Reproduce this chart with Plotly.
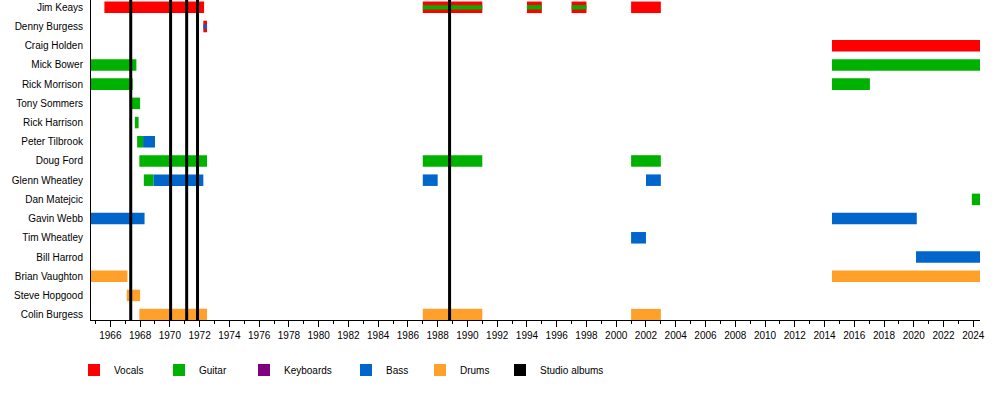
import plotly.graph_objects as go

# rows, top to bottom
members = ["Jim Keays", "Denny Burgess", "Craig Holden", "Mick Bower", "Rick Morrison",
           "Tony Sommers", "Rick Harrison", "Peter Tilbrook", "Doug Ford", "Glenn Wheatley",
           "Dan Matejcic", "Gavin Webb", "Tim Wheatley", "Bill Harrod", "Brian Vaughton",
           "Steve Hopgood", "Colin Burgess"]

roles = ["Vocals", "Guitar", "Keyboards", "Bass", "Drums"]
colors = {"Vocals": "#ff0000", "Guitar": "#00b200", "Keyboards": "#800080",
          "Bass": "#0066cc", "Drums": "#ffa02a"}

t_start = 1964.7   # timeline start
t_end = 2024.45    # timeline end

# main bars
bar_member = ["Jim Keays", "Jim Keays", "Jim Keays", "Jim Keays", "Jim Keays",
              "Denny Burgess", "Craig Holden",
              "Mick Bower", "Mick Bower", "Rick Morrison", "Rick Morrison",
              "Tony Sommers", "Rick Harrison", "Peter Tilbrook", "Peter Tilbrook",
              "Doug Ford", "Doug Ford", "Doug Ford",
              "Glenn Wheatley", "Glenn Wheatley", "Glenn Wheatley", "Glenn Wheatley",
              "Dan Matejcic", "Gavin Webb", "Gavin Webb", "Tim Wheatley", "Bill Harrod",
              "Brian Vaughton", "Brian Vaughton", "Steve Hopgood",
              "Colin Burgess", "Colin Burgess", "Colin Burgess"]
bar_role = ["Vocals", "Vocals", "Vocals", "Vocals", "Vocals",
            "Vocals", "Vocals",
            "Guitar", "Guitar", "Guitar", "Guitar",
            "Guitar", "Guitar", "Guitar", "Bass",
            "Guitar", "Guitar", "Guitar",
            "Guitar", "Bass", "Bass", "Bass",
            "Guitar", "Bass", "Bass", "Bass", "Bass",
            "Drums", "Drums", "Drums",
            "Drums", "Drums", "Drums"]
bar_start = [1965.6, 1987.0, 1994.0, 1997.0, 2001.0,
             1972.25, 2014.5,
             t_start, 2014.5, t_start, 2014.5,
             1967.4, 1967.65, 1967.8, 1968.2,
             1967.95, 1987.0, 2001.0,
             1968.25, 1968.9, 1987.0, 2002.0,
             2023.9, t_start, 2014.5, 2001.0, 2020.15,
             t_start, 2014.5, 1967.1,
             1967.95, 1987.0, 2001.0]
bar_end = [1972.3, 1991.0, 1995.0, 1998.0, 2003.0,
           1972.5, t_end,
           1967.75, t_end, 1967.5, 2017.05,
           1968.0, 1967.9, 1968.2, 1969.0,
           1972.5, 1991.0, 2003.0,
           1968.9, 1972.25, 1988.0, 2003.0,
           t_end, 1968.3, 2020.2, 2002.0, t_end,
           1967.15, t_end, 1968.0,
           1972.5, 1991.0, 2003.0]

# thin stripes for a second role
stripe_member = ["Jim Keays", "Jim Keays", "Jim Keays", "Denny Burgess"]
stripe_role = ["Guitar", "Guitar", "Guitar", "Bass"]
stripe_start = [1987.0, 1994.0, 1997.0, 1972.25]
stripe_end = [1991.0, 1995.0, 1998.0, 1972.5]

albums = [1967.37, 1970.05, 1971.13, 1971.86, 1988.8]

row = {m: i for i, m in enumerate(members)}
y_top, y_bot = -0.38, 16.28

# one small legend per entry, left edge in px
legend_x = {"Vocals": 74, "Guitar": 159, "Keyboards": 244, "Bass": 346,
            "Drums": 420, "Studio albums": 500}
legend_ids = {}
for k, name in enumerate(legend_x):
    legend_ids[name] = "legend" if k == 0 else "legend%d" % (k + 1)

fig = go.Figure()

for r in roles:
    idx = [i for i, br in enumerate(bar_role) if br == r]
    if idx:
        ys = [row[bar_member[i]] for i in idx]
        bs = [bar_start[i] for i in idx]
        xs = [bar_end[i] - bar_start[i] for i in idx]
    else:
        ys, bs, xs = [None], None, [None]
    fig.add_trace(go.Bar(
        name=r, orientation="h", legendgroup=r, legend=legend_ids[r],
        y=ys, base=bs, x=xs,
        width=0.6, marker=dict(color=colors[r], line_width=0),
        hoverinfo="skip"))

for r in roles:
    idx = [i for i, sr in enumerate(stripe_role) if sr == r]
    if not idx:
        continue
    fig.add_trace(go.Bar(
        orientation="h", legendgroup=r, showlegend=False,
        y=[row[stripe_member[i]] for i in idx],
        base=[stripe_start[i] for i in idx],
        x=[stripe_end[i] - stripe_start[i] for i in idx],
        width=0.22, marker=dict(color=colors[r], line_width=0),
        hoverinfo="skip"))

# legend entry for albums
fig.add_trace(go.Bar(name="Studio albums", orientation="h", x=[None], y=[None],
                     legend=legend_ids["Studio albums"],
                     marker=dict(color="black", line_width=0), legendgroup="alb"))

lx, ly = [], []
for a in albums:
    lx += [a, a, None]
    ly += [y_top, y_bot, None]
fig.add_trace(go.Scatter(x=lx, y=ly, mode="lines", line=dict(color="black", width=3),
                         showlegend=False, legendgroup="alb", hoverinfo="skip"))

fig.update_layout(
    barmode="overlay",
    width=1000, height=400,
    margin=dict(l=91, r=20, t=0, b=80),
    plot_bgcolor="white", paper_bgcolor="white",
    font=dict(family="Liberation Sans, Arial, sans-serif", size=10, color="black"),
    showlegend=True,
)
for name, px in legend_x.items():
    fig.update_layout({legend_ids[name]: dict(
        orientation="h", xref="container", yref="container",
        x=px / 1000, y=0.075, xanchor="left", yanchor="middle",
        font=dict(size=10), bgcolor="rgba(0,0,0,0)")})

fig.update_xaxes(range=[t_start, t_end], showgrid=False, zeroline=False,
                 showline=True, linecolor="black", linewidth=1,
                 tick0=1966, dtick=2, ticks="outside", ticklen=6, tickcolor="black",
                 minor=dict(dtick=1, ticks="outside", ticklen=3, tickcolor="black"))
fig.update_yaxes(range=[y_bot, y_top], showgrid=False, zeroline=False,
                 showline=True, linecolor="black", linewidth=1,
                 tickvals=list(range(len(members))), ticktext=members,
                 ticks="", ticklabelstandoff=5)

fig.write_html("out.html", config={"displayModeBar": False},
               post_script="document.body.style.margin='0';")
